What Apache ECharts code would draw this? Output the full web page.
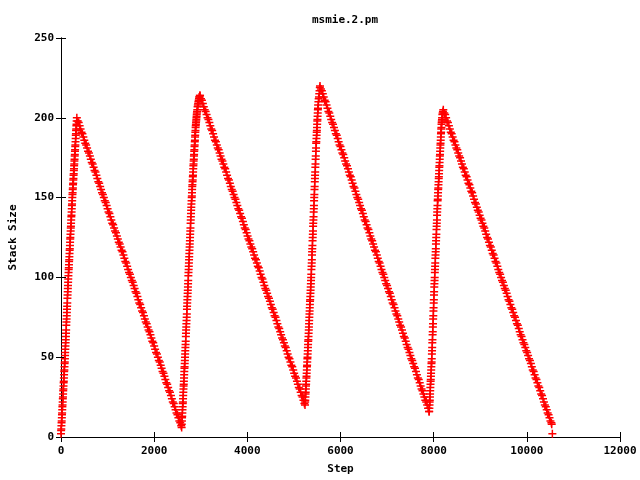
<!DOCTYPE html>
<html>
<head>
<meta charset="utf-8">
<script src="https://cdn.jsdelivr.net/npm/echarts@6/dist/echarts.min.js"></script>
<style>
html,body{margin:0;padding:0;background:#fff;}
#chart{width:640px;height:480px;}
</style>
</head>
<body>
<div id="chart"></div>
<script>
const chartTitle = 'msmie.2.pm';
const xName = 'Step';
const yName = 'Stack Size';

const rise1 = [[0,2],[3,4],[6,5],[9,7],[12,9],[15,10],[18,12],[21,14],[24,15],[27,17],[30,19],[33,20],[36,22],[39,24],[42,25],[45,27],[48,29],[51,30],[54,32],[57,34],[60,35],[63,37],[66,39],[69,41],[72,42],[75,44],[78,46],[81,47],[84,49],[87,51],[90,53],[93,55],[96,57],[99,59],[102,61],[105,63],[108,65],[111,67],[114,70],[117,72],[120,74],[123,76],[126,78],[129,80],[132,82],[135,84],[138,87],[141,89],[144,91],[147,93],[150,95],[153,97],[156,99],[159,101],[162,103],[165,105],[168,106],[171,108],[174,110],[177,111],[180,113],[183,115],[186,117],[189,118],[192,120],[195,122],[198,124],[201,125],[204,127],[207,129],[210,131],[213,132],[216,134],[219,136],[222,138],[225,139],[228,141],[231,143],[234,145],[237,146],[240,148],[243,150],[246,152],[249,153],[252,155],[255,156],[258,158],[261,159],[264,161],[267,162],[270,164],[273,165],[276,167],[279,168],[282,170],[285,171],[288,173],[291,174],[294,176],[297,177],[300,179],[303,180],[306,182],[309,183],[312,185],[315,187],[318,189],[321,190],[324,192],[327,193],[330,195],[333,196],[336,198]];
const fall1 = [[340,200],[360,198],[380,197],[400,195],[420,193],[440,191],[460,190],[480,188],[500,186],[520,184],[540,183],[560,181],[580,179],[600,178],[620,176],[640,174],[660,172],[680,171],[700,169],[720,167],[740,166],[760,164],[780,162],[800,160],[820,159],[840,157],[860,155],[880,153],[900,152],[920,150],[940,148],[960,147],[980,145],[1000,143],[1020,141],[1040,140],[1060,138],[1080,136],[1100,134],[1120,133],[1140,131],[1160,129],[1180,128],[1200,126],[1220,124],[1240,122],[1260,121],[1280,119],[1300,117],[1320,116],[1340,114],[1360,112],[1380,110],[1400,109],[1420,107],[1440,105],[1460,103],[1480,102],[1500,100],[1520,98],[1540,97],[1560,95],[1580,93],[1600,91],[1620,90],[1640,88],[1660,86],[1680,84],[1700,83],[1720,81],[1740,79],[1760,78],[1780,76],[1800,74],[1820,72],[1840,71],[1860,69],[1880,67],[1900,66],[1920,64],[1940,62],[1960,60],[1980,59],[2000,57],[2020,55],[2040,53],[2060,52],[2080,50],[2100,48],[2120,47],[2140,45],[2160,43],[2180,41],[2200,40],[2220,38],[2240,36],[2260,34],[2280,33],[2300,31],[2320,29],[2340,28],[2360,26],[2380,24],[2400,22],[2420,21],[2440,19],[2460,17],[2480,15],[2500,14],[2520,12],[2540,10],[2560,9],[2580,7]];
const rise2 = [[2590,6],[2593,8],[2596,10],[2599,12],[2602,13],[2605,15],[2608,17],[2611,19],[2614,21],[2617,22],[2620,24],[2623,26],[2626,28],[2629,30],[2632,32],[2635,33],[2638,35],[2641,37],[2644,39],[2647,41],[2650,43],[2653,44],[2656,46],[2659,48],[2662,50],[2665,52],[2668,54],[2671,56],[2674,58],[2677,60],[2680,63],[2683,65],[2686,67],[2689,69],[2692,71],[2695,73],[2698,75],[2701,77],[2704,80],[2707,82],[2710,84],[2713,86],[2716,88],[2719,90],[2722,92],[2725,94],[2728,96],[2731,98],[2734,101],[2737,103],[2740,105],[2743,107],[2746,109],[2749,111],[2752,113],[2755,115],[2758,117],[2761,119],[2764,121],[2767,123],[2770,125],[2773,127],[2776,129],[2779,131],[2782,134],[2785,136],[2788,138],[2791,140],[2794,142],[2797,144],[2800,146],[2803,148],[2806,150],[2809,151],[2812,153],[2815,155],[2818,157],[2821,158],[2824,160],[2827,161],[2830,163],[2833,164],[2836,166],[2839,168],[2842,170],[2845,171],[2848,173],[2851,174],[2854,176],[2857,177],[2860,179],[2863,180],[2866,182],[2869,183],[2872,185],[2875,186],[2878,188],[2881,189],[2884,191],[2887,192],[2890,194],[2893,195],[2896,196],[2899,197],[2902,198],[2905,199],[2908,200],[2911,201],[2914,202],[2917,203],[2920,204],[2926,205],[2932,207],[2938,208],[2944,209],[2950,210],[2956,211],[2962,212],[2968,213],[2974,213],[2980,214]];
const fall2 = [[2985,214],[3005,212],[3025,211],[3045,209],[3065,207],[3085,205],[3105,204],[3125,202],[3145,200],[3165,199],[3185,197],[3205,195],[3225,193],[3245,192],[3265,190],[3285,188],[3305,186],[3325,185],[3345,183],[3365,181],[3385,180],[3405,178],[3425,176],[3445,174],[3465,173],[3485,171],[3505,169],[3525,168],[3545,166],[3565,164],[3585,162],[3605,161],[3625,159],[3645,157],[3665,155],[3685,154],[3705,152],[3725,150],[3745,149],[3765,147],[3785,145],[3805,143],[3825,142],[3845,140],[3865,138],[3885,137],[3905,135],[3925,133],[3945,131],[3965,130],[3985,128],[4005,126],[4025,124],[4045,123],[4065,121],[4085,119],[4105,118],[4125,116],[4145,114],[4165,112],[4185,111],[4205,109],[4225,107],[4245,106],[4265,104],[4285,102],[4305,100],[4325,99],[4345,97],[4365,95],[4385,93],[4405,92],[4425,90],[4445,88],[4465,87],[4485,85],[4505,83],[4525,81],[4545,80],[4565,78],[4585,76],[4605,75],[4625,73],[4645,71],[4665,69],[4685,68],[4705,66],[4725,64],[4745,62],[4765,61],[4785,59],[4805,57],[4825,56],[4845,54],[4865,52],[4885,50],[4905,49],[4925,47],[4945,45],[4965,44],[4985,42],[5005,40],[5025,38],[5045,37],[5065,35],[5085,33],[5105,31],[5125,30],[5145,28],[5165,26],[5185,25],[5205,23],[5225,21]];
const rise3 = [[5238,20],[5241,22],[5244,23],[5247,25],[5250,27],[5253,28],[5256,30],[5259,32],[5262,33],[5265,35],[5268,37],[5271,38],[5274,40],[5277,42],[5280,44],[5283,45],[5286,47],[5289,49],[5292,50],[5295,52],[5298,54],[5301,56],[5304,58],[5307,60],[5310,61],[5313,63],[5316,65],[5319,67],[5322,69],[5325,71],[5328,73],[5331,75],[5334,77],[5337,79],[5340,81],[5343,83],[5346,85],[5349,86],[5352,88],[5355,90],[5358,92],[5361,94],[5364,96],[5367,98],[5370,100],[5373,102],[5376,105],[5379,107],[5382,109],[5385,111],[5388,114],[5391,116],[5394,118],[5397,120],[5400,123],[5403,125],[5406,127],[5409,129],[5412,132],[5415,134],[5418,136],[5421,138],[5424,141],[5427,143],[5430,145],[5433,148],[5436,150],[5439,152],[5442,155],[5445,157],[5448,160],[5451,162],[5454,164],[5457,166],[5460,169],[5463,171],[5466,174],[5469,176],[5472,179],[5475,181],[5478,184],[5481,185],[5484,187],[5487,189],[5490,191],[5493,192],[5496,194],[5499,196],[5502,198],[5505,199],[5508,201],[5511,203],[5514,205],[5517,206],[5520,208],[5526,210],[5532,212],[5538,213],[5544,215],[5550,217],[5556,219]];
const fall3 = [[5560,220],[5580,218],[5600,217],[5620,215],[5640,213],[5660,211],[5680,210],[5700,208],[5720,206],[5740,204],[5760,203],[5780,201],[5800,199],[5820,197],[5840,196],[5860,194],[5880,192],[5900,190],[5920,189],[5940,187],[5960,185],[5980,183],[6000,182],[6020,180],[6040,178],[6060,177],[6080,175],[6100,173],[6120,171],[6140,170],[6160,168],[6180,166],[6200,164],[6220,163],[6240,161],[6260,159],[6280,157],[6300,156],[6320,154],[6340,152],[6360,150],[6380,149],[6400,147],[6420,145],[6440,143],[6460,142],[6480,140],[6500,138],[6520,136],[6540,135],[6560,133],[6580,131],[6600,130],[6620,128],[6640,126],[6660,124],[6680,123],[6700,121],[6720,119],[6740,117],[6760,116],[6780,114],[6800,112],[6820,110],[6840,109],[6860,107],[6880,105],[6900,103],[6920,102],[6940,100],[6960,98],[6980,96],[7000,95],[7020,93],[7040,91],[7060,90],[7080,88],[7100,86],[7120,84],[7140,83],[7160,81],[7180,79],[7200,77],[7220,76],[7240,74],[7260,72],[7280,70],[7300,69],[7320,67],[7340,65],[7360,63],[7380,62],[7400,60],[7420,58],[7440,56],[7460,55],[7480,53],[7500,51],[7520,49],[7540,48],[7560,46],[7580,44],[7600,43],[7620,41],[7640,39],[7660,37],[7680,36],[7700,34],[7720,32],[7740,30],[7760,29],[7780,27],[7800,25],[7820,23],[7840,22],[7860,20],[7880,18],[7900,16]];
const rise4 = [[7905,16],[7908,18],[7911,20],[7914,22],[7917,23],[7920,25],[7923,27],[7926,29],[7929,31],[7932,33],[7935,35],[7938,36],[7941,38],[7944,40],[7947,42],[7950,44],[7953,46],[7956,47],[7959,49],[7962,52],[7965,54],[7968,56],[7971,59],[7974,61],[7977,64],[7980,66],[7983,69],[7986,71],[7989,74],[7992,76],[7995,79],[7998,81],[8001,84],[8004,86],[8007,89],[8010,91],[8013,94],[8016,96],[8019,98],[8022,100],[8025,103],[8028,105],[8031,107],[8034,109],[8037,112],[8040,114],[8043,116],[8046,118],[8049,121],[8052,123],[8055,125],[8058,127],[8061,130],[8064,132],[8067,134],[8070,136],[8073,139],[8076,141],[8079,143],[8082,145],[8085,148],[8088,149],[8091,151],[8094,153],[8097,155],[8100,156],[8103,158],[8106,160],[8109,162],[8112,163],[8115,165],[8118,167],[8121,169],[8124,170],[8127,172],[8130,174],[8133,176],[8136,177],[8139,179],[8142,181],[8145,183],[8148,184],[8151,186],[8154,188],[8157,190],[8160,191],[8163,193],[8166,194],[8169,196],[8172,197],[8175,198],[8178,199],[8181,200],[8187,202],[8193,203],[8199,204]];
const fall4 = [[8207,205],[8227,203],[8247,202],[8267,200],[8287,198],[8307,197],[8327,195],[8347,193],[8367,191],[8387,190],[8407,188],[8427,186],[8447,185],[8467,183],[8487,181],[8507,180],[8527,178],[8547,176],[8567,175],[8587,173],[8607,171],[8627,169],[8647,168],[8667,166],[8687,164],[8707,163],[8727,161],[8747,159],[8767,158],[8787,156],[8807,154],[8827,153],[8847,151],[8867,149],[8887,147],[8907,146],[8927,144],[8947,142],[8967,141],[8987,139],[9007,137],[9027,136],[9047,134],[9067,132],[9087,131],[9107,129],[9127,127],[9147,125],[9167,124],[9187,122],[9207,120],[9227,119],[9247,117],[9267,115],[9287,114],[9307,112],[9327,110],[9347,109],[9367,107],[9387,105],[9407,103],[9427,102],[9447,100],[9467,98],[9487,97],[9507,95],[9527,93],[9547,92],[9567,90],[9587,88],[9607,86],[9627,85],[9647,83],[9667,81],[9687,80],[9707,78],[9727,76],[9747,75],[9767,73],[9787,71],[9807,70],[9827,68],[9847,66],[9867,64],[9887,63],[9907,61],[9927,59],[9947,58],[9967,56],[9987,54],[10007,53],[10027,51],[10047,49],[10067,48],[10087,46],[10107,44],[10127,42],[10147,41],[10167,39],[10187,37],[10207,36],[10227,34],[10247,32],[10267,31],[10287,29],[10307,27],[10327,26],[10347,24],[10367,22],[10387,20],[10407,19],[10427,17],[10447,15],[10467,14],[10487,12],[10507,10],[10527,9],[10534,8],[10548,2]];

const allPoints = [].concat(rise1, fall1, rise2, fall2, rise3, fall3, rise4, fall4);

const font = 'DejaVu Sans Mono';
const plusPath = 'path://M0,4H8M4,0V8';

const chart = echarts.init(document.getElementById('chart'), null, {renderer: 'canvas'});
const axisCommon = {
  axisLine: {show: true, lineStyle: {color: '#000', width: 1}},
  splitLine: {show: false}
};
const labelStyle = {fontFamily: font, fontSize: 11, fontWeight: 'bold', color: '#000'};
chart.setOption({
  animation: false,
  backgroundColor: '#fff',
  title: {
    text: chartTitle, left: 340, top: 10, textAlign: 'center',
    textStyle: labelStyle
  },
  grid: {left: 61, right: 20, top: 38, bottom: 40, containLabel: false},
  xAxis: [
    Object.assign({
      type: 'value', position: 'bottom', min: 0, max: 12000, interval: 2000,
      name: xName, nameLocation: 'middle', nameGap: 27,
      nameTextStyle: labelStyle,
      axisTick: {show: true, inside: true, length: 5, lineStyle: {color: '#000'}},
      axisLabel: Object.assign({margin: 9, formatter: function (v) { return String(v); }}, labelStyle)
    }, axisCommon),
    Object.assign({
      type: 'value', position: 'top', min: 0, max: 12000, interval: 2000,
      axisTick: {show: true, inside: true, length: 5, lineStyle: {color: '#000'}},
      axisLabel: {show: false}
    }, axisCommon)
  ],
  yAxis: [
    Object.assign({
      type: 'value', position: 'left', min: 0, max: 250, interval: 50,
      name: yName, nameLocation: 'middle', nameGap: 42, nameRotate: 90,
      nameTextStyle: labelStyle,
      axisTick: {show: true, inside: true, length: 5, lineStyle: {color: '#000'}},
      axisLabel: Object.assign({margin: 7, formatter: function (v) { return String(v); }}, labelStyle)
    }, axisCommon),
    Object.assign({
      type: 'value', position: 'right', min: 0, max: 250, interval: 50,
      axisTick: {show: true, inside: true, length: 5, lineStyle: {color: '#000'}},
      axisLabel: {show: false}
    }, axisCommon)
  ],
  series: [{
    type: 'scatter',
    xAxisIndex: 0, yAxisIndex: 0,
    symbol: plusPath,
    symbolSize: 8,
    itemStyle: {color: 'rgba(255,0,0,0)', borderColor: '#ff0000', borderWidth: 1.5, opacity: 1},
    emphasis: {disabled: true},
    large: false,
    data: allPoints
  }]
});
</script>
</body>
</html>
